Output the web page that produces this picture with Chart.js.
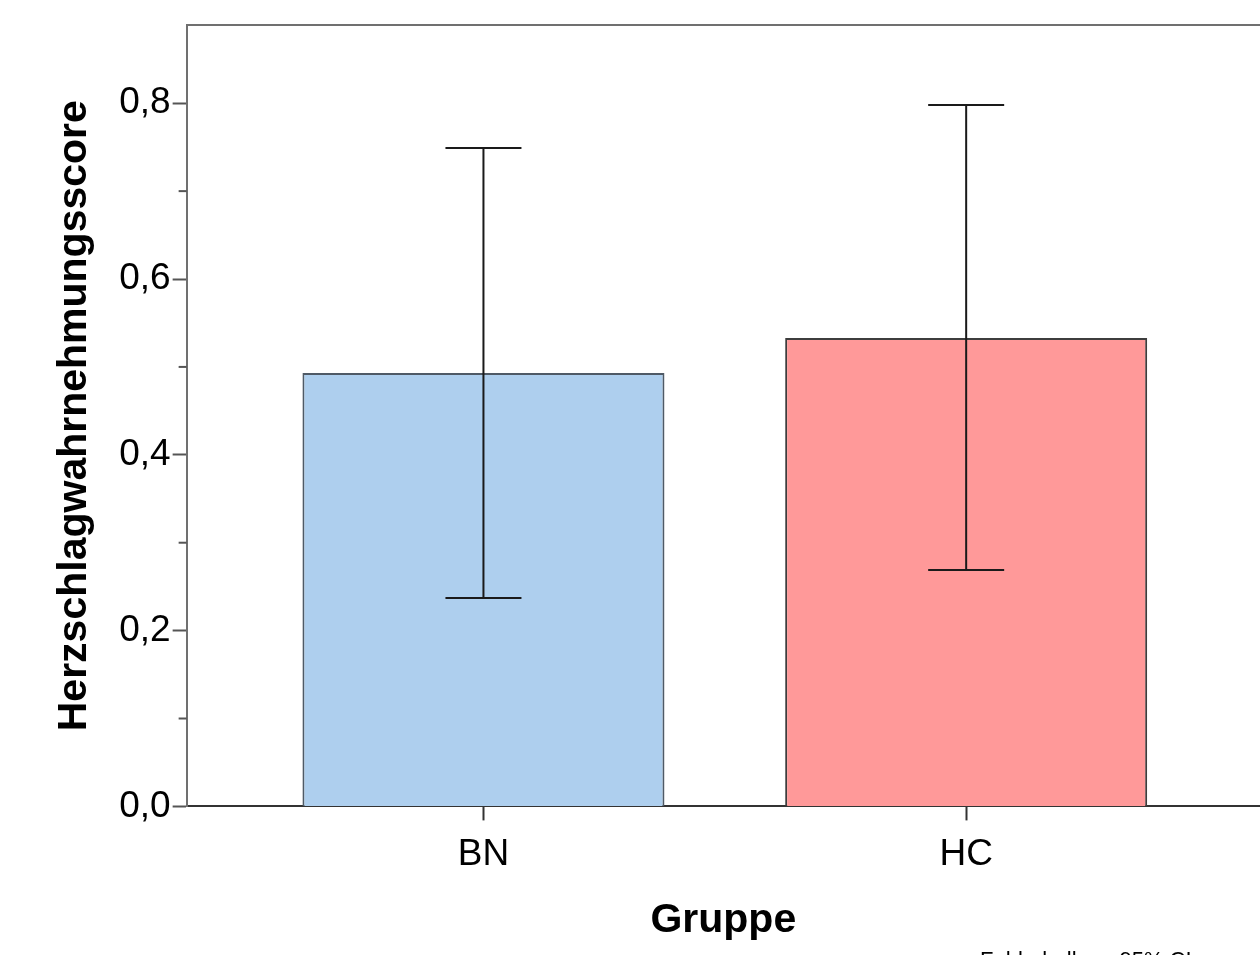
<!DOCTYPE html>
<html>
<head>
<meta charset="utf-8">
<script src="https://cdn.jsdelivr.net/npm/chart.js@4"></script>
<style>
  body { margin: 0; background: #fff; overflow: hidden; }
  #wrap { width: 1260px; height: 955px; position: relative; }
</style>
</head>
<body>
<div id="wrap"><canvas id="chartGruppe"></canvas></div>
<script>
// Daten aus dem Diagramm
const gruppen = ['BN', 'HC'];
const mittelwerte = [0.493, 0.533];
const ciUnten = [0.237, 0.269];
const ciOben = [0.749, 0.798];
const yTicks = [0, 0.2, 0.4, 0.6, 0.8];
const yMinorTicks = [0.1, 0.3, 0.5, 0.7];
const yMax = 0.889;
const fussnote = 'Fehlerbalken: 95% CI';

const schrift = "'Liberation Sans', Arial, sans-serif";

// Fehlerbalken, Rahmen oben, kleine Ticks und Fussnote
const extras = {
  id: 'extras',
  afterDatasetsDraw(chart) {
    const c = chart.ctx;
    const xs = chart.scales.x;
    const ys = chart.scales.y;
    const area = chart.chartArea;

    // Rahmen oben
    c.save();
    c.strokeStyle = '#707070';
    c.lineWidth = 2;
    c.beginPath();
    c.moveTo(area.left, area.top);
    c.lineTo(area.right + 2, area.top);
    c.stroke();

    // kleine Ticks
    c.strokeStyle = '#555';
    yMinorTicks.forEach((v) => {
      const y = ys.getPixelForValue(v);
      c.beginPath();
      c.moveTo(area.left - 8, y);
      c.lineTo(area.left, y);
      c.stroke();
    });

    // Fehlerbalken
    c.strokeStyle = '#1a1a1a';
    c.lineWidth = 2;
    gruppen.forEach((g, i) => {
      const x = xs.getPixelForValue(i + 1);
      const yo = ys.getPixelForValue(ciOben[i]);
      const yu = ys.getPixelForValue(ciUnten[i]);
      c.beginPath();
      c.moveTo(x, yo); c.lineTo(x, yu);
      c.moveTo(x - 38, yo); c.lineTo(x + 38, yo);
      c.moveTo(x - 38, yu); c.lineTo(x + 38, yu);
      c.stroke();
    });

    // Fussnote (unten abgeschnitten)
    c.fillStyle = '#000';
    c.font = '22px ' + schrift;
    c.textBaseline = 'alphabetic';
    c.textAlign = 'left';
    c.fillText(fussnote, 980, 967);
    c.restore();
  }
};

const ctx = document.getElementById('chartGruppe').getContext('2d');

const myChart = new Chart(ctx, {
  type: 'bar',
  data: {
    datasets: [{
      data: mittelwerte.map((v, i) => ({ x: i + 1, y: v })),
      backgroundColor: ['#AECFEE', '#FF9999'],
      borderColor: ['#4f5a66', '#3d3d3d'],
      borderWidth: 2,
      borderSkipped: 'bottom',
      barPercentage: 0.75,
      categoryPercentage: 1
    }]
  },
  options: {
    responsive: true,
    maintainAspectRatio: false,
    animation: false,
    layout: { padding: { left: 50, top: 25, right: 0, bottom: 6 } },
    plugins: {
      legend: { display: false },
      tooltip: { enabled: false }
    },
    scales: {
      x: {
        type: 'linear',
        offset: false,
        min: 0.3851,
        max: 2.6087,
        afterBuildTicks: (axis) => {
          axis.ticks = gruppen.map((g, i) => ({ value: i + 1 }));
        },
        ticks: {
          callback: (v) => gruppen[v - 1],
          color: '#000',
          padding: 12,
          font: { family: schrift, size: 37 },
          maxRotation: 0
        },
        grid: { offset: false, drawOnChartArea: false, tickLength: 14, color: '#333', tickWidth: 2 },
        border: { color: '#333', width: 2 },
        title: {
          display: true,
          text: 'Gruppe',
          color: '#000',
          font: { family: schrift, size: 41, weight: 'bold' },
          padding: { top: 7, bottom: 4 }
        }
      },
      y: {
        min: 0,
        max: yMax,
        afterBuildTicks: (axis) => {
          axis.ticks = yTicks.map((v) => ({ value: v }));
        },
        ticks: {
          callback: (v) => v.toFixed(1).replace('.', ','),
          color: '#000',
          padding: 2,
          font: { family: schrift, size: 37 }
        },
        grid: { drawOnChartArea: false, tickLength: 14, color: '#555', tickWidth: 2 },
        border: { color: '#707070', width: 2 },
        title: {
          display: true,
          text: 'Herzschlagwahrnehmungsscore',
          color: '#000',
          font: { family: schrift, size: 41, weight: 'bold' },
          padding: { top: 0, bottom: 18 }
        }
      }
    }
  },
  plugins: [extras]
});
</script>
</body>
</html>
